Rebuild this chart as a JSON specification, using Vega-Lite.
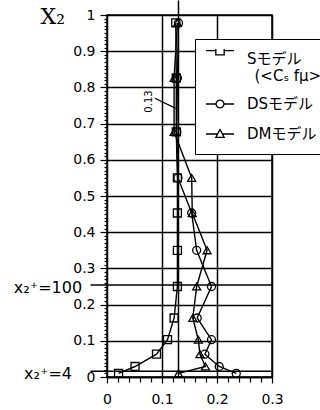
{
  "$schema": "https://vega.github.io/schema/vega-lite/v6.json",
  "width": 165,
  "height": 362,
  "autosize": "none",
  "padding": {"left": 107, "top": 15, "right": 48, "bottom": 33},
  "background": "white",
  "config": {"view": {"stroke": "black", "strokeWidth": 1.5}, "font": "DejaVu Sans"},
  "datasets": {
    "profiles": [
      {"model": "S", "y": 0.978, "x": 0.125}, {"model": "S", "y": 0.826, "x": 0.126}, {"model": "S", "y": 0.677, "x": 0.126},
      {"model": "S", "y": 0.55, "x": 0.128}, {"model": "S", "y": 0.453, "x": 0.128}, {"model": "S", "y": 0.35, "x": 0.128},
      {"model": "S", "y": 0.25, "x": 0.128}, {"model": "S", "y": 0.163, "x": 0.122}, {"model": "S", "y": 0.103, "x": 0.11},
      {"model": "S", "y": 0.063, "x": 0.09}, {"model": "S", "y": 0.029, "x": 0.051}, {"model": "S", "y": 0.01, "x": 0.021},
      {"model": "DS", "y": 0.978, "x": 0.13}, {"model": "DS", "y": 0.826, "x": 0.128}, {"model": "DS", "y": 0.677, "x": 0.127},
      {"model": "DS", "y": 0.55, "x": 0.129}, {"model": "DS", "y": 0.453, "x": 0.154}, {"model": "DS", "y": 0.35, "x": 0.163},
      {"model": "DS", "y": 0.25, "x": 0.19}, {"model": "DS", "y": 0.163, "x": 0.164}, {"model": "DS", "y": 0.103, "x": 0.19},
      {"model": "DS", "y": 0.063, "x": 0.178}, {"model": "DS", "y": 0.029, "x": 0.204}, {"model": "DS", "y": 0.01, "x": 0.235},
      {"model": "DM", "y": 0.978, "x": 0.128}, {"model": "DM", "y": 0.826, "x": 0.122}, {"model": "DM", "y": 0.677, "x": 0.122},
      {"model": "DM", "y": 0.55, "x": 0.154}, {"model": "DM", "y": 0.453, "x": 0.155}, {"model": "DM", "y": 0.35, "x": 0.182},
      {"model": "DM", "y": 0.25, "x": 0.163}, {"model": "DM", "y": 0.163, "x": 0.156}, {"model": "DM", "y": 0.103, "x": 0.166},
      {"model": "DM", "y": 0.063, "x": 0.169}, {"model": "DM", "y": 0.029, "x": 0.179}, {"model": "DM", "y": 0.01, "x": 0.13}
    ],
    "wall": [
      {"label": "x₂⁺=100", "x2plus": 100, "y": 0.254},
      {"label": "x₂⁺=4", "x2plus": 4, "y": 0.016}
    ]
  },
  "layer": [
    {
      "data": {"name": "profiles"},
      "mark": {"type": "line", "color": "black", "strokeWidth": 1.4},
      "encoding": {
        "x": {
          "field": "x", "type": "quantitative",
          "scale": {"domain": [0, 0.3], "nice": false, "zero": false},
          "axis": {
            "values": [0, 0.02, 0.04, 0.06, 0.08, 0.1, 0.12, 0.14, 0.16, 0.18, 0.2, 0.22, 0.24, 0.26, 0.28, 0.3],
            "tickCount": 200,
            "title": null,
            "labelExpr": "round(datum.value*100) % 10 == 0 ? (datum.value == 0 ? '0' : format(datum.value, '.1f')) : ''",
            "labelFont": "DejaVu Sans", "labelFontSize": 14, "labelColor": "black", "labelPadding": 9,
            "labelOverlap": false, "labelFlush": false, "labelBound": false,
            "domainColor": "black", "domainWidth": 1.5,
            "grid": true, "gridColor": "black", "gridWidth": 1.5,
            "gridOpacity": {"condition": {"test": "datum.value > 0 && round(datum.value*100) % 10 == 0", "value": 1}, "value": 0},
            "tickColor": "black", "tickWidth": 1.2,
            "tickSize": {"condition": {"test": "round(datum.value*100) % 10 == 0", "value": 6}, "value": 5}
          }
        },
        "y": {
          "field": "y", "type": "quantitative",
          "scale": {"domain": [0, 1], "nice": false, "zero": false},
          "axis": {
            "values": [0, 0.01, 0.02, 0.03, 0.04, 0.05, 0.06, 0.07, 0.08, 0.09, 0.1, 0.11, 0.12, 0.13, 0.14, 0.15, 0.16, 0.17, 0.18, 0.19, 0.2, 0.21, 0.22, 0.23, 0.24, 0.25, 0.26, 0.27, 0.28, 0.29, 0.3, 0.31, 0.32, 0.33, 0.34, 0.35, 0.36, 0.37, 0.38, 0.39, 0.4, 0.41, 0.42, 0.43, 0.44, 0.45, 0.46, 0.47, 0.48, 0.49, 0.5, 0.51, 0.52, 0.53, 0.54, 0.55, 0.56, 0.57, 0.58, 0.59, 0.6, 0.61, 0.62, 0.63, 0.64, 0.65, 0.66, 0.67, 0.68, 0.69, 0.7, 0.71, 0.72, 0.73, 0.74, 0.75, 0.76, 0.77, 0.78, 0.79, 0.8, 0.81, 0.82, 0.83, 0.84, 0.85, 0.86, 0.87, 0.88, 0.89, 0.9, 0.91, 0.92, 0.93, 0.94, 0.95, 0.96, 0.97, 0.98, 0.99, 1],
            "tickCount": 200,
            "title": "X₂", "titleAngle": 0, "titleFont": "DejaVu Serif", "titleFontSize": 22, "titleFontWeight": "normal",
            "titleColor": "black", "titleAlign": "left", "titleBaseline": "alphabetic", "titleX": -67, "titleY": 8,
            "labelExpr": "round(datum.value*100) % 10 == 0 ? (datum.value == 1 ? '1' : datum.value == 0 ? '0' : format(datum.value, '.1f')) : ''",
            "labelFont": "DejaVu Sans", "labelFontSize": 14, "labelColor": "black", "labelPadding": 5,
            "labelOverlap": false, "labelFlush": false, "labelBound": false,
            "domainColor": "black", "domainWidth": 1.5,
            "grid": true, "gridColor": "black", "gridWidth": 1.5,
            "gridOpacity": {"condition": {"test": "round(datum.value*100) % 10 == 0", "value": 1}, "value": 0},
            "tickColor": "black", "tickWidth": 1.2,
            "tickSize": {"condition": {"test": "round(datum.value*100) % 10 == 0", "value": 7}, "value": 3}
          }
        },
        "detail": {"field": "model"},
        "order": {"field": "y", "sort": "descending"}
      }
    },
    {
      "data": {"name": "profiles"},
      "transform": [{"filter": {"field": "model", "equal": "S"}}],
      "mark": {"type": "point", "shape": "square", "filled": false, "stroke": "black", "strokeWidth": 1.3, "size": 64, "opacity": 1},
      "encoding": {
        "x": {"field": "x", "type": "quantitative"},
        "y": {"field": "y", "type": "quantitative"}
      }
    },
    {
      "data": {"name": "profiles"},
      "transform": [{"filter": {"field": "model", "equal": "DS"}}],
      "mark": {"type": "point", "shape": "circle", "filled": false, "stroke": "black", "strokeWidth": 1.3, "size": 64, "opacity": 1},
      "encoding": {
        "x": {"field": "x", "type": "quantitative"},
        "y": {"field": "y", "type": "quantitative"}
      }
    },
    {
      "data": {"name": "profiles"},
      "transform": [{"filter": {"field": "model", "equal": "DM"}}],
      "mark": {"type": "point", "shape": "triangle-up", "filled": false, "stroke": "black", "strokeWidth": 1.3, "size": 64, "opacity": 1},
      "encoding": {
        "x": {"field": "x", "type": "quantitative"},
        "y": {"field": "y", "type": "quantitative"}
      }
    },
    {
      "data": {"name": "profiles"},
      "mark": {"type": "point", "filled": false, "opacity": 0, "size": 10},
      "encoding": {
        "x": {"field": "x", "type": "quantitative"},
        "y": {"field": "y", "type": "quantitative"},
        "shape": {
          "field": "model", "type": "nominal",
          "scale": {
            "domain": ["S", "DS", "DM"],
            "range": [
              "M-1,-0.6H-0.3M0.3,-0.6H1M-0.3,-0.9H0.3V-0.3H-0.3Z",
              "M-1,0H-0.28M0.28,0H1M0.28,0A0.28,0.28 0 1 1 -0.28,0A0.28,0.28 0 1 1 0.28,0Z",
              "M-1,0H-0.2M0.2,0H1M0,-0.32L0.3,0.24H-0.3Z"
            ]
          },
          "legend": {
            "orient": "none", "legendX": 88, "legendY": 24, "title": null,
            "padding": 10, "strokeColor": "black", "fillColor": "white", "cornerRadius": 0,
            "symbolSize": 784, "symbolStrokeColor": "black", "symbolFillColor": "white", "symbolStrokeWidth": 1.3,
            "symbolOpacity": 1, "clipHeight": 20,
            "labelFont": "DejaVu Sans, Noto Sans CJK JP", "labelFontSize": 15, "labelColor": "black",
            "labelOffset": 12, "labelLimit": 0, "rowPadding": 10,
            "labelExpr": "datum.value == 'S' ? ['Sモデル', '\u200b\u2002(<C\u209b f\u03bc>\u209c)'] : datum.value + 'モデル'"
          }
        }
      }
    },
    {
      "data": {"values": [{"value": 0.13}]},
      "mark": {"type": "rule", "color": "black", "strokeWidth": 1.5},
      "encoding": {
        "x": {"field": "value", "type": "quantitative"},
        "y": {"datum": 0},
        "y2": {"datum": 1.04}
      }
    },
    {
      "data": {"values": [{"value": 0.13}]},
      "mark": {"type": "text", "angle": 270, "fontSize": 10, "font": "DejaVu Sans", "color": "black", "align": "center", "baseline": "middle"},
      "encoding": {
        "x": {"datum": 0.0764},
        "y": {"datum": 0.761},
        "text": {"field": "value", "type": "quantitative", "format": ".2f"}
      }
    },
    {
      "data": {"values": [{"value": 0.13}]},
      "mark": {"type": "rule", "color": "black", "strokeWidth": 1.2},
      "encoding": {
        "x": {"datum": 0.087},
        "x2": {"datum": 0.125},
        "y": {"datum": 0.77},
        "y2": {"datum": 0.742}
      }
    },
    {
      "data": {"name": "wall"},
      "mark": {"type": "rule", "color": "black", "strokeWidth": 1.5},
      "encoding": {
        "x": {"datum": -0.03},
        "x2": {"datum": 0.3},
        "y": {"field": "y", "type": "quantitative"}
      }
    },
    {
      "data": {"name": "wall"},
      "mark": {"type": "text", "fontSize": 16, "font": "DejaVu Sans", "color": "black", "align": "center", "baseline": "alphabetic", "dx": -59, "dy": 8},
      "encoding": {
        "x": {"datum": 0},
        "y": {"field": "y", "type": "quantitative"},
        "text": {"field": "label"}
      }
    }
  ]
}
